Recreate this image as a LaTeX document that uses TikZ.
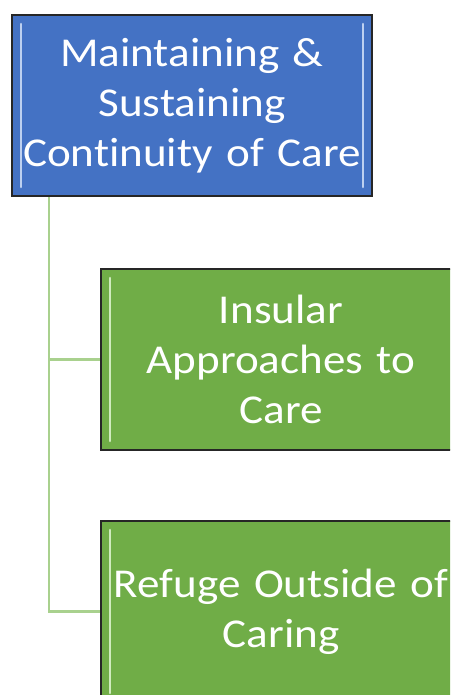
\documentclass[tikz,border=0pt]{standalone}
\usepackage{fontspec}
\setmainfont{Carlito}[FakeStretch=1.1, WordSpace=0.85, Ligatures={NoCommon}]
\definecolor{topblue}{HTML}{4472C4}
\definecolor{leafgreen}{HTML}{70AD47}
\definecolor{edgedark}{HTML}{262626}
\definecolor{linkgreen}{HTML}{A9D18E}
\definecolor{bevelblue}{HTML}{BDD0F0}
\definecolor{bevelgreen}{HTML}{D0EBBE}
\begin{document}
\begin{tikzpicture}[x=1pt,y=-1pt,
  boxbase/.style={draw=edgedark, line width=2pt, minimum width=360pt, minimum height=181pt,
    inner sep=0pt, text width=358pt, align=center, text=white,
    font=\fontsize{41}{50}\selectfont},
  topbox/.style={boxbase, fill=topblue},
  leafbox/.style={boxbase, fill=leafgreen},
  link/.style={draw=linkgreen, line width=2.4pt},
  bevel/.style={line width=2.6pt, line cap=round}]
\useasboundingbox (0,0) rectangle (450,695);
\begin{scope}
\clip (0,0) rectangle (450,695);
\node[topbox] (top) at (192,105.5) {Maintaining \&\\Sustaining\\Continuity of Care};
\node[leafbox] (g1) at (281,359.5) {Insular\\Approaches to\\Care};
\node[leafbox] (g2) at (281,611.5) {Refuge Outside of\\Caring};
% bevel highlights
\draw[bevel, bevelblue] ([shift={(10,10)}]top.north west) -- ([shift={(10,-10)}]top.south west);
\draw[bevel, bevelblue] ([shift={(-10,10)}]top.north east) -- ([shift={(-10,-10)}]top.south east);
\draw[bevel, bevelgreen] ([shift={(10,10)}]g1.north west) -- ([shift={(10,-10)}]g1.south west);
\draw[bevel, bevelgreen] ([shift={(-10,10)}]g1.north east) -- ([shift={(-10,-10)}]g1.south east);
\draw[bevel, bevelgreen] ([shift={(10,10)}]g2.north west) -- ([shift={(10,-10)}]g2.south west);
\draw[bevel, bevelgreen] ([shift={(-10,10)}]g2.north east) -- ([shift={(-10,-10)}]g2.south east);
% connectors
\coordinate (c0) at ([xshift=-143pt]top.south);
\draw[link] (c0) |- (g1.west);
\draw[link] (c0) |- (g2.west);
\end{scope}
\end{tikzpicture}
\end{document}
